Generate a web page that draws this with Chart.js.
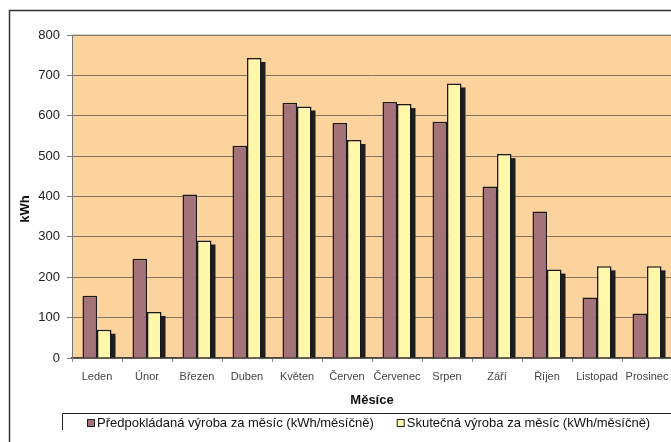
<!DOCTYPE html>
<html>
<head>
<meta charset="utf-8">
<script src="https://cdn.jsdelivr.net/npm/chart.js@4"></script>
<style>
  html, body { margin: 0; padding: 0; overflow: hidden; background: #fff; }
  #obal { width: 700px; height: 442px; }
</style>
</head>
<body>
<div id="obal"><canvas id="graf" width="700" height="442"></canvas></div>
<script>
var mesice = ['Leden', 'Únor', 'Březen', 'Duben', 'Květen', 'Červen', 'Červenec', 'Srpen', 'Září', 'Říjen', 'Listopad', 'Prosinec'];
var predpoklad = [154, 246, 405, 526, 632, 582, 634, 585, 425, 363, 150, 110];
var skutecnost = [70, 114, 291, 743, 623, 540, 629, 680, 505, 219, 227, 227];
var osaY = [0, 100, 200, 300, 400, 500, 600, 700, 800];

var pismo = "'Liberation Sans', Arial, sans-serif";

// pozadi plochy grafu + ramecek
var pozadi = {
  id: 'pozadi',
  beforeDraw: function (chart) {
    var a = chart.chartArea, ctx = chart.ctx;
    ctx.save();
    ctx.fillStyle = '#fcd39d';
    ctx.fillRect(a.left, a.top, a.right - a.left, a.bottom - a.top);
    ctx.strokeStyle = '#c4c4c4';
    ctx.lineWidth = 1.5;
    ctx.beginPath();
    ctx.moveTo(a.left, a.top);
    ctx.lineTo(a.right, a.top);
    ctx.stroke();
    ctx.restore();
  }
};

// stin za sloupci druhe rady
var stiny = {
  id: 'stiny',
  beforeDatasetsDraw: function (chart) {
    var ctx = chart.ctx;
    var meta = chart.getDatasetMeta(1);
    ctx.save();
    ctx.fillStyle = '#1e1e1e';
    meta.data.forEach(function (el) {
      var p = el.getProps(['x', 'y', 'base', 'width'], true);
      ctx.fillRect(p.x - p.width / 2 + 4, p.y + 4, p.width, p.base - p.y - 4);
    });
    ctx.restore();
  }
};

// legenda, nadpis osy y a vnejsi ramecek
var popisky = {
  id: 'popisky',
  afterDraw: function (chart) {
    var ctx = chart.ctx;
    ctx.save();
    ctx.strokeStyle = '#333';
    ctx.lineWidth = 1.5;
    ctx.beginPath();
    ctx.moveTo(9.5, 442);
    ctx.lineTo(9.5, 10.5);
    ctx.lineTo(700, 10.5);
    ctx.stroke();

    ctx.translate(25, 209);
    ctx.rotate(-Math.PI / 2);
    ctx.font = 'bold 13px ' + pismo;
    ctx.fillStyle = '#111';
    ctx.textAlign = 'center';
    ctx.textBaseline = 'middle';
    ctx.fillText('kWh', 0, 0);
    ctx.restore();

    ctx.save();
    ctx.strokeStyle = '#222';
    ctx.lineWidth = 1;
    ctx.beginPath();
    ctx.moveTo(62.5, 430);
    ctx.lineTo(62.5, 413.5);
    ctx.lineTo(700, 413.5);
    ctx.stroke();
    ctx.font = '13px ' + pismo;
    ctx.textBaseline = 'middle';
    var x = 87;
    chart.data.datasets.forEach(function (ds) {
      ctx.fillStyle = ds.backgroundColor;
      ctx.fillRect(x, 419, 8, 8);
      ctx.strokeStyle = '#222';
      ctx.strokeRect(x + 0.5, 419.5, 7, 7);
      ctx.fillStyle = '#111';
      ctx.fillText(ds.label, x + 10, 423.5);
      x += 10 + ctx.measureText(ds.label).width + 23;
    });
    ctx.restore();
  }
};

var ctx = document.getElementById('graf').getContext('2d');
var graf = new Chart(ctx, {
  type: 'bar',
  data: {
    labels: mesice,
    datasets: [{
      label: 'Předpokládaná výroba za měsíc (kWh/měsíčně)',
      data: predpoklad,
      backgroundColor: '#a37379',
      borderColor: '#1a1a1a',
      borderWidth: 1.5,
      categoryPercentage: 0.58,
      barPercentage: 1
    }, {
      label: 'Skutečná výroba za měsíc (kWh/měsíčně)',
      data: skutecnost,
      backgroundColor: '#fff7aa',
      borderColor: '#1a1a1a',
      borderWidth: 1.5,
      categoryPercentage: 0.58,
      barPercentage: 1
    }]
  },
  options: {
    responsive: false,
    devicePixelRatio: 1,
    animation: false,
    layout: { padding: { top: 35, right: 28, left: 0, bottom: 0 } },
    plugins: {
      legend: { display: false },
      tooltip: { enabled: false }
    },
    scales: {
      x: {
        grid: { display: true, drawOnChartArea: false, offset: true, tickLength: 4, tickColor: '#888' },
        border: { color: '#444', width: 1.5 },
        ticks: { color: '#444', font: { family: pismo, size: 11 }, padding: 8, maxRotation: 0, autoSkip: false },
        title: { display: true, text: 'Měsíce', color: '#111', font: { family: pismo, size: 13, weight: 'bold' }, padding: { bottom: 34 } },
        afterFit: function (s) { s.height = 84; }
      },
      y: {
        min: osaY[0],
        max: osaY[osaY.length - 1],
        afterBuildTicks: function (s) { s.ticks = osaY.map(function (v) { return { value: v }; }); },
        grid: { color: '#85745f', lineWidth: 1, tickLength: 5, tickColor: '#888' },
        border: { color: '#777', width: 1 },
        ticks: { color: '#222', font: { family: pismo, size: 13 }, padding: 7 },
        afterFit: function (s) { s.width = 72; }
      }
    }
  },
  plugins: [pozadi, stiny, popisky]
});
</script>
</body>
</html>
